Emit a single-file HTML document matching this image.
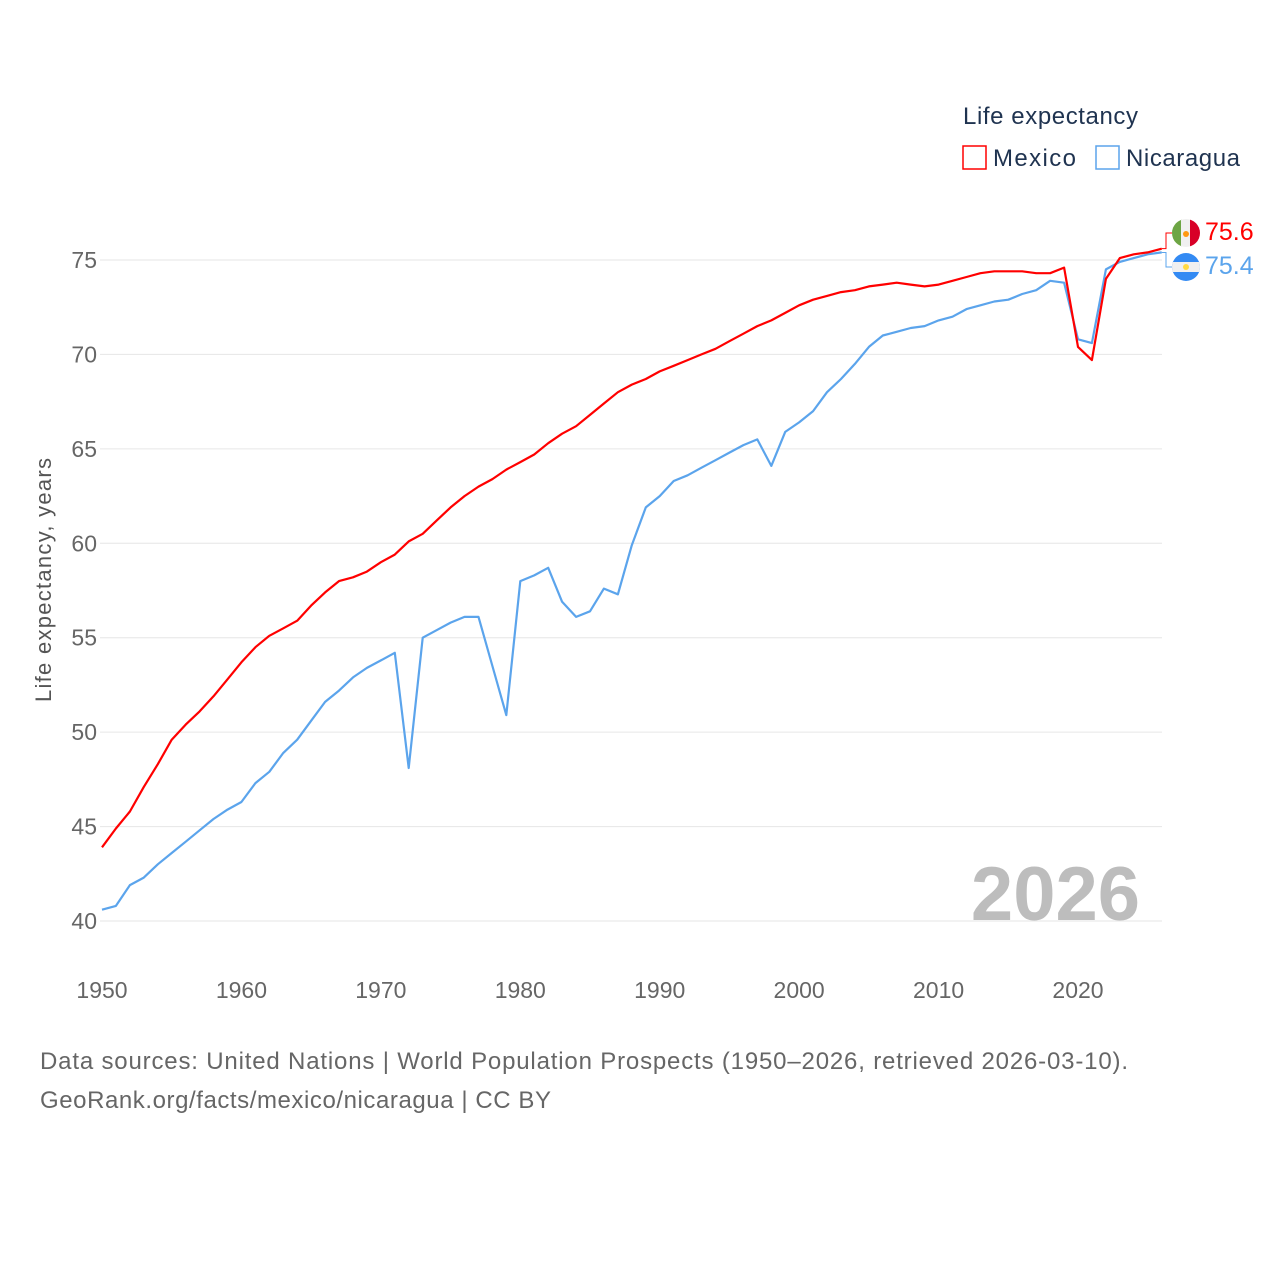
<!DOCTYPE html>
<html><head><meta charset="utf-8"><style>
html,body{margin:0;padding:0;background:#fff;}
svg text{font-family:"Liberation Sans",sans-serif;}
</style></head><body>
<svg id="chart" width="1280" height="1280" viewBox="0 0 1280 1280" xmlns="http://www.w3.org/2000/svg">
<g id="grid"></g>
<g id="yticks"></g>
<g id="xticks"></g>
<text x="51" y="580" transform="rotate(-90 51 580)" text-anchor="middle" font-size="22" fill="#555" textLength="244">Life expectancy, years</text>
<text x="1140" y="920" text-anchor="end" font-size="76" font-weight="bold" fill="#bdbdbd">2026</text>
<g id="series"></g>
<g>
<text x="963" y="124" font-size="24" fill="#1f3350" textLength="175">Life expectancy</text>
<g><rect x="963" y="146" width="23" height="23" fill="none" stroke="#ff0000" stroke-width="1.5"/><text x="993" y="166" font-size="24" fill="#1f3350" textLength="83">Mexico</text></g>
<g><rect x="1096" y="146" width="23" height="23" fill="none" stroke="#5ba4ec" stroke-width="1.5"/><text x="1126" y="166" font-size="24" fill="#1f3350" textLength="114">Nicaragua</text></g>
</g>
<g id="endlabels">
<g>
<clipPath id="cm"><circle cx="1186" cy="233" r="14"/></clipPath>
<g clip-path="url(#cm)"><rect x="1172" y="219" width="10" height="28" fill="#6da544"/><rect x="1181" y="219" width="10" height="28" fill="#f0f0f0"/><rect x="1190" y="219" width="10" height="28" fill="#d80027"/><circle cx="1186" cy="234" r="3" fill="#ff9811"/></g>
</g>
<g>
<clipPath id="cn"><circle cx="1186" cy="267" r="14"/></clipPath>
<g clip-path="url(#cn)"><rect x="1172" y="253" width="28" height="28" fill="#338af3"/><rect x="1172" y="262" width="28" height="10" fill="#f0f0f0"/><circle cx="1186" cy="267" r="3" fill="#ffda44"/></g>
</g>
<text x="1205" y="240" font-size="25" fill="#ff0000">75.6</text>
<text x="1205" y="274" font-size="25" fill="#5ba4ec">75.4</text>
</g>
<text x="40" y="1069" font-size="24" fill="#666" textLength="1088">Data sources: United Nations | World Population Prospects (1950–2026, retrieved 2026-03-10).</text>
<text x="40" y="1108" font-size="24" fill="#666" textLength="511">GeoRank.org/facts/mexico/nicaragua | CC BY</text>
</svg>
<script>
const years = [];
for (let y = 1950; y <= 2026; y++) years.push(y);
const mexico = [43.9,44.9,45.8,47.1,48.3,49.6,50.4,51.1,51.9,52.8,53.7,54.5,55.1,55.5,55.9,56.7,57.4,58.0,58.2,58.5,59.0,59.4,60.1,60.5,61.2,61.9,62.5,63.0,63.4,63.9,64.3,64.7,65.3,65.8,66.2,66.8,67.4,68.0,68.4,68.7,69.1,69.4,69.7,70.0,70.3,70.7,71.1,71.5,71.8,72.2,72.6,72.9,73.1,73.3,73.4,73.6,73.7,73.8,73.7,73.6,73.7,73.9,74.1,74.3,74.4,74.4,74.4,74.3,74.3,74.6,70.4,69.7,74.0,75.1,75.3,75.4,75.6];
const nicaragua = [40.6,40.8,41.9,42.3,43.0,43.6,44.2,44.8,45.4,45.9,46.3,47.3,47.9,48.9,49.6,50.6,51.6,52.2,52.9,53.4,53.8,54.2,48.1,55.0,55.4,55.8,56.1,56.1,53.5,50.9,58.0,58.3,58.7,56.9,56.1,56.4,57.6,57.3,59.9,61.9,62.5,63.3,63.6,64.0,64.4,64.8,65.2,65.5,64.1,65.9,66.4,67.0,68.0,68.7,69.5,70.4,71.0,71.2,71.4,71.5,71.8,72.0,72.4,72.6,72.8,72.9,73.2,73.4,73.9,73.8,70.8,70.6,74.5,74.9,75.1,75.3,75.4];
const yTicks = [40,45,50,55,60,65,70,75];
const xTicks = [1950,1960,1970,1980,1990,2000,2010,2020];
const NS = "http://www.w3.org/2000/svg";
const X = y => 102 + (y - 1950) * (976 / 70);
const Y = v => 921 - (v - 40) * (661 / 35);
function mk(tag, attrs, parent){const e=document.createElementNS(NS,tag);for(const k in attrs)e.setAttribute(k,attrs[k]);parent.appendChild(e);return e;}
const grid=document.getElementById('grid'),yt=document.getElementById('yticks'),xt=document.getElementById('xticks'),ser=document.getElementById('series');
yTicks.forEach(v=>{
  const l=mk('line',{x1:100,x2:1162,y1:Y(v),y2:Y(v),stroke:'#e6e6e6','stroke-width':1},grid);
  
  
  const t=mk('text',{x:97,y:Y(v)+8,'text-anchor':'end','font-size':23,fill:'#666'},yt);
  t.textContent=v;
  
  
});
xTicks.forEach(v=>{
  const t=mk('text',{x:X(v),y:998,'text-anchor':'middle','font-size':23,fill:'#666'},xt);
  t.textContent=v;
  
  
});
function line(vals,color,name){
  const d=vals.map((v,i)=>(i?'L':'M')+X(years[i]).toFixed(1)+' '+Y(v).toFixed(1)).join(' ');
  const p=mk('path',{d:d,fill:'none',stroke:color,'stroke-width':2.2,'stroke-linejoin':'round'},ser);
  
  
}
line(nicaragua,'#5ba4ec','nicaragua-line');
line(mexico,'#ff0000','mexico-line');
const el=document.getElementById('endlabels');
const xe=X(years[years.length-1]);
const c1=mk('path',{d:`M${xe} ${Y(mexico[mexico.length-1])} H1166 V233 H1172`,fill:'none',stroke:'#ff0000','stroke-width':1},el);


const c2=mk('path',{d:`M${xe} ${Y(nicaragua[nicaragua.length-1])} H1166 V267 H1172`,fill:'none',stroke:'#5ba4ec','stroke-width':1},el);


</script>
</body></html>
